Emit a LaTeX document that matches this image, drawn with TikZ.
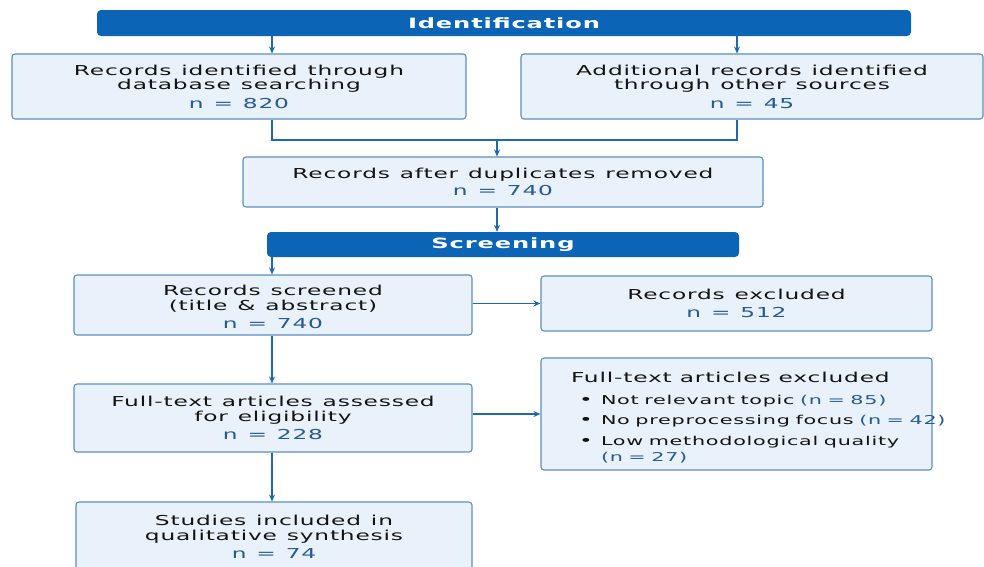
\documentclass[tikz,border=0pt]{standalone}
\usepackage{fontspec}
\setmainfont{DejaVu Sans}[FakeStretch=1.7,LetterSpace=6,WordSpace=1.2]
\usetikzlibrary{arrows.meta,positioning}
\definecolor{barblue}{RGB}{12,100,182}
\definecolor{boxfill}{RGB}{233,242,250}
\definecolor{boxline}{RGB}{92,142,194}
\definecolor{linkblue}{RGB}{30,104,178}
\definecolor{txtdark}{RGB}{20,20,20}
\definecolor{numblue}{RGB}{36,90,150}
\newcommand{\nval}[1]{\textcolor{numblue}{#1}}
\newcommand{\exitem}[1]{\hspace*{8pt}\makebox[22pt][l]{\textbullet}{\fontsize{12.2}{14}\selectfont\spaceskip=5.5pt\relax #1}}

\tikzset{
  phase/.style={fill=barblue, rounded corners=4pt, text=white,
    font=\bfseries\fontsize{14.2}{15}\selectfont, inner sep=0pt},
  stagebox/.style={draw=boxline, line width=1.1pt, fill=boxfill,
    rounded corners=3pt, text=txtdark, align=center,
    font=\fontsize{13.7}{14.5}\selectfont, inner sep=0pt},
  link/.style={draw=linkblue, line width=1.1pt, -{Stealth[length=7pt,width=6pt]}},
  joint/.style={draw=linkblue, line width=1.1pt},
}

\begin{document}
\begin{tikzpicture}[x=1pt,y=-1pt]
  \useasboundingbox (0,0) rectangle (984,566);
  % phase bars
  \node[phase, minimum width=814pt, minimum height=26pt] (ident) at (504,23) {Identification};
  \node[phase, minimum width=472pt, minimum height=25pt] (screen) at (503,244.5) {Screening};
  % identification boxes
  \node[stagebox, minimum width=454pt, minimum height=65pt] (dbrec) at (239,86.5)
    {Records identified through\\database searching\\[4pt]\nval{n = 820}};
  \node[stagebox, minimum width=462pt, minimum height=65pt] (otherrec) at (752,86.5)
    {Additional records identified\\through other sources\\[4pt]\nval{n = 45}};
  \node[stagebox, minimum width=520pt, minimum height=50pt] (dedup) at (503,182)
    {Records after duplicates removed\\[2pt]\nval{n = 740}};
  % screening boxes
  \node[stagebox, minimum width=398pt, minimum height=60pt] (screened) at (273,305)
    {\rule{0pt}{15pt}Records screened\\(title \& abstract)\\[4pt]\nval{n = 740}};
  \node[stagebox, minimum width=391pt, minimum height=55pt] (excl) at (736.5,303.5)
    {Records excluded\\[4pt]\nval{n = 512}};
  \node[stagebox, minimum width=398pt, minimum height=68pt] (fulltext) at (273,418)
    {Full-text articles assessed\\for eligibility\\[4pt]\nval{n = 228}};
  \node[stagebox, minimum width=391pt, minimum height=112pt, align=left,
        text width=331pt, inner xsep=30pt] (ftexcl) at (736.5,414)
    {\spaceskip=8pt\relax\rule{0pt}{18pt}Full-text articles excluded\\[7pt]
     \mbox{\exitem{Not relevant topic \nval{(n = 85)}}}\\[6pt]
     \mbox{\exitem{No preprocessing focus \nval{(n = 42)}}}\\[6pt]
     \mbox{\exitem{Low methodological quality}}\\[2pt]
     \mbox{\hspace*{30pt}\fontsize{12.2}{14}\selectfont\spaceskip=5.5pt\relax\nval{(n = 27)}}};
  \node[stagebox, minimum width=396pt, minimum height=70pt] (included) at (274,537)
    {Studies included in\\qualitative synthesis\\[4pt]\nval{n = 74}};
  % helper coordinates
  \coordinate (leftx) at (272,0);
  \coordinate (rightx) at (737,0);
  \coordinate (merge) at (497,140);
  % connectors
  \draw[link] (ident.south -| leftx) -- (dbrec.north -| leftx);
  \draw[link] (ident.south -| rightx) -- (otherrec.north -| rightx);
  \draw[joint] (dbrec.south -| leftx) |- (merge) -| (otherrec.south -| rightx);
  \draw[link] (merge) -- (dedup.north -| merge);
  \draw[link] (dedup.south -| merge) -- (screen.north -| merge);
  \draw[link] (screen.south -| leftx) -- (screened.north -| leftx);
  \draw[link] (screened.east |- excl.west) -- (excl.west);
  \draw[link] (screened.south -| leftx) -- (fulltext.north -| leftx);
  \draw[link] (fulltext.east |- ftexcl.west) -- (ftexcl.west);
  \draw[link] (fulltext.south -| leftx) -- (included.north -| leftx);
\end{tikzpicture}
\end{document}
